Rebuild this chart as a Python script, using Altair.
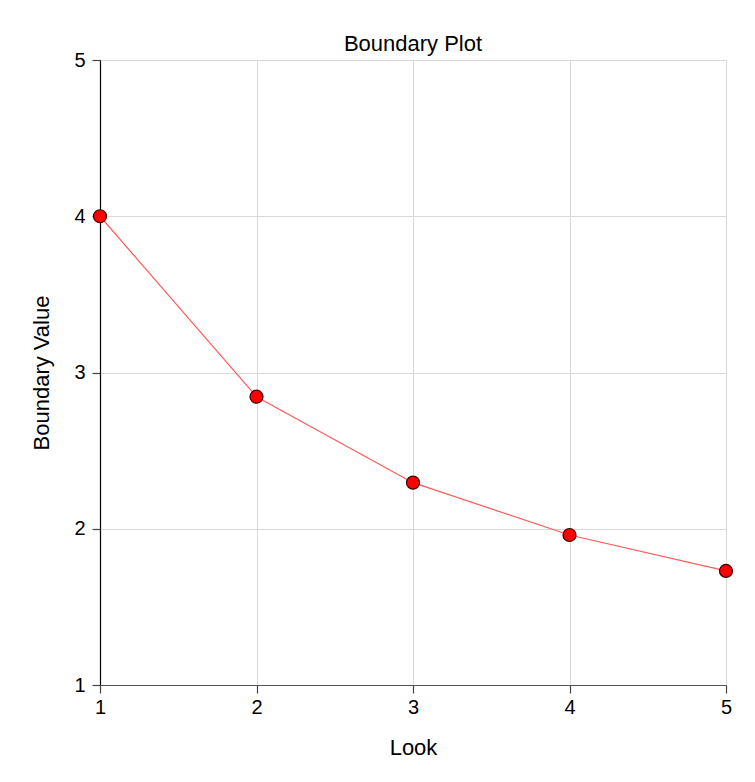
import altair as alt
import pandas as pd

looks = [1, 2, 3, 4, 5]
boundary = [4.0, 2.845, 2.295, 1.96, 1.73]

df = pd.DataFrame({"Look": looks, "Boundary": boundary})

FONT = "Liberation Sans"

x = alt.X("Look:Q", scale=alt.Scale(domain=[1, 5], nice=False, zero=False),
          axis=alt.Axis(title="Look", values=[1, 2, 3, 4, 5], format="d",
                        titlePadding=20, labelPadding=4, labelFlush=False))
y = alt.Y("Boundary:Q", scale=alt.Scale(domain=[1, 5], nice=False, zero=False),
          axis=alt.Axis(title="Boundary Value", values=[1, 2, 3, 4, 5], format="d",
                        titlePadding=20, labelPadding=7, labelFlush=False))

line = alt.Chart(df).mark_line(color="#ff5a5a", strokeWidth=1.2).encode(x=x, y=y)
pts = alt.Chart(df).mark_point(filled=True, fill="#ff0000", stroke="#3a0000",
                               strokeWidth=1.2, size=170, opacity=1).encode(x=x, y=y)

chart = (line + pts).properties(
    width=626, height=625,
    title=alt.TitleParams("Boundary Plot", font=FONT, fontSize=22, fontWeight="normal",
                          color="#000000", offset=-6),
    autosize=alt.AutoSizeParams(type="none"),
    padding={"left": 92, "top": 52, "right": 21, "bottom": 80},
).configure_view(stroke=None).configure_axis(
    labelFont=FONT, titleFont=FONT, labelFontSize=20, titleFontSize=22,
    titleFontWeight="normal", labelColor="#000000", titleColor="#000000",
    gridColor="#d9d9d9", gridWidth=1, domainColor="#000000", domainWidth=1.2,
    tickColor="#444444", tickSize=8, tickWidth=1.2,
).configure_axisX(domainColor="#555555")

chart.save("out.html", embed_options={"renderer": "svg", "actions": False})
